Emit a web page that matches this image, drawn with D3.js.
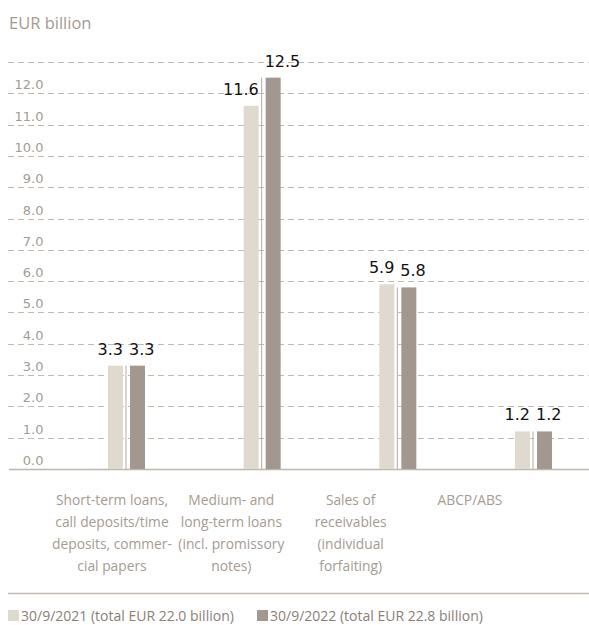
<!DOCTYPE html>
<html><head><meta charset="utf-8">
<script src="https://cdn.jsdelivr.net/npm/d3@7"></script>
<style>body{margin:0;background:#fff}svg{display:block}</style>
</head><body>
<svg id="chart" width="589" height="625"></svg>
<script>
const categories = [
  ["Short-term loans,", "call deposits/time", "deposits, commer-", "cial papers"],
  ["Medium- and", "long-term loans", "(incl. promissory", "notes)"],
  ["Sales of", "receivables", "(individual", "forfaiting)"],
  ["ABCP/ABS"]
];
const series2021 = [3.3, 11.6, 5.9, 1.2];
const series2022 = [3.3, 12.5, 5.8, 1.2];
const seriesNames = ["30/9/2021 (total EUR 22.0 billion)", "30/9/2022 (total EUR 22.8 billion)"];
const yTicks = [0,1,2,3,4,5,6,7,8,9,10,11,12];
const gridValues = [1,2,3,4,5,6,7,8,9,10,11,12,13];

const svg = d3.select("#chart");
const c1 = "#e0d9cf", c2 = "#a3988f", gray = "#a59b92";
const labelFont = "'Open Sans', sans-serif";
const numFont = "'DejaVu Sans', sans-serif";

const y = d3.scaleLinear().domain([0, 13]).range([469, 62]);
const idx = d3.range(categories.length);
const x = d3.scalePoint().domain(idx).range([126.5, 533.5]);
const xl = d3.scalePoint().domain(idx).range([112, 470]);

// title
svg.append("text").attr("x", 9).attr("y", 29).text("EUR billion")
  .attr("font-family", labelFont).attr("font-weight", 500).attr("font-size", 16.5).attr("fill", gray);

// grid
svg.append("g").selectAll("line").data(gridValues).join("line")
  .attr("x1", 8).attr("x2", 589).attr("y1", d => Math.round(y(d)) + 0.5).attr("y2", d => Math.round(y(d)) + 0.5)
  .attr("stroke", "#c3b9b0").attr("stroke-width", 1).attr("stroke-dasharray", "6,4");

// tick labels (right aligned)
svg.append("g").selectAll("text").data(yTicks).join("text")
  .attr("x", 43.5).attr("y", d => y(d) - 4).attr("text-anchor", "end")
  .text(d => d3.format(".1f")(d))
  .attr("font-family", numFont).attr("font-size", 13).attr("fill", gray);

// baseline
svg.append("line").attr("x1", 9).attr("x2", 589).attr("y1", y(0) + 0.5).attr("y2", y(0) + 0.5)
  .attr("stroke", "#c0b6ad").attr("stroke-width", 1.5);

const bw = 15;
const g = svg.append("g");
g.selectAll("rect.a").data(idx).join("rect").attr("class", "a")
  .attr("x", i => x(i) - 18.5).attr("width", bw)
  .attr("y", i => y(series2021[i])).attr("height", i => y(0) - y(series2021[i]))
  .attr("fill", c1);
g.selectAll("rect.b").data(idx).join("rect").attr("class", "b")
  .attr("x", i => x(i) + 3.5).attr("width", bw)
  .attr("y", i => y(series2022[i])).attr("height", i => y(0) - y(series2022[i]))
  .attr("fill", c2);
g.selectAll("line.sep").data(idx).join("line").attr("class", "sep")
  .attr("x1", i => x(i) - 0.5).attr("x2", i => x(i) - 0.5)
  .attr("y1", i => y(series2022[i])).attr("y2", y(0))
  .attr("stroke", "#b3aaa1").attr("stroke-width", 1);

// value labels
const fmt = d3.format(".1f");
g.selectAll("text.va").data(idx).join("text").attr("class", "va")
  .attr("x", i => x(i) - 3.5).attr("y", i => y(series2021[i]) - 11)
  .attr("text-anchor", "end").text(i => fmt(series2021[i]))
  .attr("font-family", numFont).attr("font-size", 16).attr("fill", "#111");
g.selectAll("text.vb").data(idx).join("text").attr("class", "vb")
  .attr("x", i => x(i) + 2.5).attr("y", i => y(series2022[i]) - 11)
  .attr("text-anchor", "start").text(i => fmt(series2022[i]))
  .attr("font-family", numFont).attr("font-size", 16).attr("fill", "#111");

// category labels
const cl = svg.append("g").selectAll("text").data(idx).join("text")
  .attr("text-anchor", "middle")
  .attr("font-family", labelFont).attr("font-size", 13.8).attr("fill", gray);
cl.each(function(i) {
  d3.select(this).selectAll("tspan").data(categories[i]).join("tspan")
    .attr("x", xl(i)).attr("y", (d, k) => 504.5 + k * 22.3).text(d => d);
});

// bottom separator
svg.append("line").attr("x1", 8).attr("x2", 589).attr("y1", 593.5).attr("y2", 593.5)
  .attr("stroke", "#c0b6ad").attr("stroke-width", 1.5);

// legend
const legX = [8, 257];
const lg = svg.append("g").selectAll("g").data(seriesNames).join("g")
  .attr("transform", (d, i) => `translate(${legX[i]},0)`);
lg.append("rect").attr("x", 0).attr("y", 610).attr("width", 11).attr("height", 11)
  .attr("fill", (d, i) => i === 0 ? c1 : c2);
lg.append("text").attr("x", 13).attr("y", 620.5).text(d => d)
  .attr("font-family", labelFont).attr("font-size", 14).attr("fill", "#8a8078");
</script>
</body></html>
